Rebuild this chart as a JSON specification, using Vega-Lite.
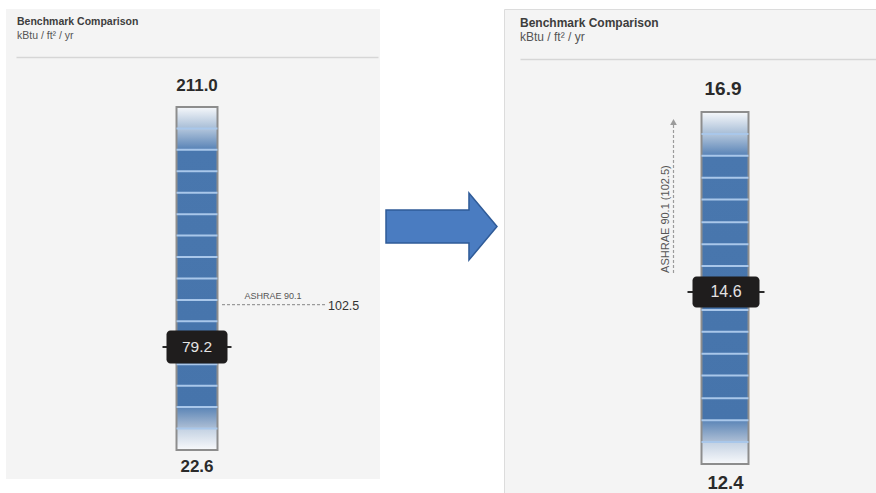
{
  "$schema": "https://vega.github.io/schema/vega-lite/v6.json",
  "background": "white",
  "padding": {"left": 6, "top": 8, "right": 0, "bottom": 0},
  "spacing": 0,
  "config": {
    "view": {"stroke": null},
    "font": "Liberation Sans, Arial, sans-serif",
    "text": {"font": "Liberation Sans, Arial, sans-serif"}
  },
  "datasets": {
    "bench": [
      {"panel": "Before", "min": 22.6, "max": 211.0, "current": 79.2, "benchmark": "ASHRAE 90.1", "ashrae": 102.5, "note": "ASHRAE 90.1 (102.5)"},
      {"panel": "After", "min": 12.4, "max": 16.9, "current": 14.6, "benchmark": "ASHRAE 90.1", "ashrae": 102.5, "note": "ASHRAE 90.1 (102.5)"}
    ],
    "dividers": [
      {"panel": "Before", "value": 34.4}, {"panel": "Before", "value": 46.2}, {"panel": "Before", "value": 57.9},
      {"panel": "Before", "value": 69.7}, {"panel": "Before", "value": 81.5}, {"panel": "Before", "value": 93.3},
      {"panel": "Before", "value": 105.0}, {"panel": "Before", "value": 116.8}, {"panel": "Before", "value": 128.6},
      {"panel": "Before", "value": 140.4}, {"panel": "Before", "value": 152.1}, {"panel": "Before", "value": 163.9},
      {"panel": "Before", "value": 175.7}, {"panel": "Before", "value": 187.5}, {"panel": "Before", "value": 199.2},
      {"panel": "After", "value": 12.68}, {"panel": "After", "value": 12.96}, {"panel": "After", "value": 13.24},
      {"panel": "After", "value": 13.53}, {"panel": "After", "value": 13.81}, {"panel": "After", "value": 14.09},
      {"panel": "After", "value": 14.37}, {"panel": "After", "value": 14.65}, {"panel": "After", "value": 14.93},
      {"panel": "After", "value": 15.21}, {"panel": "After", "value": 15.49}, {"panel": "After", "value": 15.78},
      {"panel": "After", "value": 16.06}, {"panel": "After", "value": 16.34}, {"panel": "After", "value": 16.62}
    ],
    "transition": [{"from": "Before", "to": "After"}]
  },
  "hconcat": [
    {
      "width": 374,
      "height": 470,
      "view": {"fill": "#f4f4f4", "stroke": null},
      "title": {
        "text": "Benchmark Comparison", "subtitle": "kBtu / ft² / yr",
        "anchor": "start", "frame": "group", "offset": -32, "dx": 11,
        "font": "Liberation Sans, Arial, sans-serif",
        "fontSize": 10.5, "fontWeight": "bold", "color": "#3d3d3d",
        "subtitleFont": "Liberation Sans, Arial, sans-serif",
        "subtitleFontSize": 10.5, "subtitleColor": "#555555", "subtitlePadding": 3
      },
      "data": {"name": "bench"},
      "transform": [{"filter": "datum.panel === 'Before'"}],
      "encoding": {
        "x": {
          "field": "panel", "type": "nominal",
          "scale": {"type": "point", "range": [10, 372]},
          "axis": {"orient": "top", "offset": -48, "domainColor": "#d6d6d6", "domainWidth": 1.5, "ticks": false, "labels": false, "title": null, "grid": false}
        }
      },
      "layer": [
        {
          "mark": {
            "type": "bar", "width": 41, "stroke": "#8d8d8d", "strokeWidth": 2,
            "fill": {"gradient": "linear", "x1": 0, "y1": 0, "x2": 0, "y2": 1, "stops": [
              {"offset": 0, "color": "#f6f8fb"}, {"offset": 0.0625, "color": "#a7bdd6"},
              {"offset": 0.0626, "color": "#b3c6dc"}, {"offset": 0.125, "color": "#5681b5"},
              {"offset": 0.126, "color": "#4977ae"}, {"offset": 0.874, "color": "#4674ab"},
              {"offset": 0.875, "color": "#5a84b6"}, {"offset": 0.9374, "color": "#aebfd5"},
              {"offset": 0.9375, "color": "#c3d1e2"}, {"offset": 1, "color": "#f8f9fb"}
            ]}
          },
          "encoding": {
            "y": {"field": "min", "type": "quantitative", "scale": {"zero": false, "nice": false, "range": [441, 98]}, "axis": null},
            "y2": {"field": "max"}
          }
        },
        {
          "data": {"name": "dividers"},
          "transform": [{"filter": "datum.panel === 'Before'"}],
          "mark": {"type": "tick", "orient": "horizontal", "size": 41, "thickness": 2, "color": "#a9c7ea", "opacity": 1},
          "encoding": {"y": {"field": "value", "type": "quantitative"}}
        },
        {
          "mark": {"type": "rule", "xOffset": 25, "x2Offset": 128, "strokeDash": [3, 2], "color": "#9b9b9b", "strokeWidth": 1.2},
          "encoding": {"x2": {"field": "panel"}, "y": {"field": "ashrae", "type": "quantitative"}}
        },
        {
          "mark": {"type": "text", "xOffset": 76, "dy": -9, "fontSize": 9, "color": "#555555"},
          "encoding": {"y": {"field": "ashrae", "type": "quantitative"}, "text": {"field": "benchmark"}}
        },
        {
          "mark": {"type": "text", "xOffset": 131, "dy": 1, "align": "left", "fontSize": 12.5, "color": "#333333"},
          "encoding": {"y": {"field": "ashrae", "type": "quantitative"}, "text": {"field": "ashrae", "format": ".1f"}}
        },
        {
          "mark": {"type": "tick", "orient": "horizontal", "size": 69, "thickness": 2, "color": "#2a2a2a", "opacity": 1},
          "encoding": {"y": {"field": "current", "type": "quantitative"}}
        },
        {
          "mark": {"type": "tick", "orient": "horizontal", "size": 61, "thickness": 33, "cornerRadius": 4, "color": "#1f1d1d", "opacity": 1},
          "encoding": {"y": {"field": "current", "type": "quantitative"}}
        },
        {
          "mark": {"type": "text", "fontSize": 15.5, "color": "#e4e4e4"},
          "encoding": {"y": {"field": "current", "type": "quantitative"}, "text": {"field": "current", "format": ".1f"}}
        },
        {
          "mark": {"type": "text", "dy": -21, "fontSize": 17, "fontWeight": "bold", "color": "#2a2a2a"},
          "encoding": {"y": {"field": "max", "type": "quantitative"}, "text": {"field": "max", "format": ".1f"}}
        },
        {
          "mark": {"type": "text", "dy": 17, "fontSize": 17, "fontWeight": "bold", "color": "#2a2a2a"},
          "encoding": {"y": {"field": "min", "type": "quantitative"}, "text": {"field": "min", "format": ".1f"}}
        }
      ]
    },
    {
      "width": 123,
      "height": 435,
      "view": {"stroke": null},
      "data": {"name": "transition"},
      "mark": {
        "type": "point",
        "shape": "M-1,-0.297L0.495,-0.297L0.495,-0.604L1,0L0.495,0.604L0.495,0.297L-1,0.297Z",
        "size": 12321, "filled": true, "fill": "#4a7cc1", "stroke": "#2f5b98", "strokeWidth": 1.5, "opacity": 1
      },
      "encoding": {}
    },
    {
      "width": 373,
      "height": 485,
      "view": {"fill": "#f4f4f4", "stroke": "#dcdcdc"},
      "title": {
        "text": "Benchmark Comparison", "subtitle": "kBtu / ft² / yr",
        "anchor": "start", "frame": "group", "offset": -35, "dx": 16,
        "font": "Liberation Sans, Arial, sans-serif",
        "fontSize": 12, "fontWeight": "bold", "color": "#3d3d3d",
        "subtitleFont": "Liberation Sans, Arial, sans-serif",
        "subtitleFontSize": 12, "subtitleColor": "#555555", "subtitlePadding": 2
      },
      "data": {"name": "bench"},
      "transform": [{"filter": "datum.panel === 'After'"}],
      "encoding": {
        "x": {
          "field": "panel", "type": "nominal",
          "scale": {"type": "point", "range": [16, 373]},
          "axis": {"orient": "top", "offset": -50, "domainColor": "#d6d6d6", "domainWidth": 1.5, "ticks": false, "labels": false, "title": null, "grid": false}
        }
      },
      "layer": [
        {
          "mark": {
            "type": "bar", "width": 47, "xOffset": 26.5, "stroke": "#8d8d8d", "strokeWidth": 2,
            "fill": {"gradient": "linear", "x1": 0, "y1": 0, "x2": 0, "y2": 1, "stops": [
              {"offset": 0, "color": "#f6f8fb"}, {"offset": 0.0625, "color": "#a7bdd6"},
              {"offset": 0.0626, "color": "#b3c6dc"}, {"offset": 0.125, "color": "#5681b5"},
              {"offset": 0.126, "color": "#4977ae"}, {"offset": 0.874, "color": "#4674ab"},
              {"offset": 0.875, "color": "#5a84b6"}, {"offset": 0.9374, "color": "#aebfd5"},
              {"offset": 0.9375, "color": "#c3d1e2"}, {"offset": 1, "color": "#f8f9fb"}
            ]}
          },
          "encoding": {
            "y": {"field": "min", "type": "quantitative", "scale": {"zero": false, "nice": false, "range": [455, 103]}, "axis": null},
            "y2": {"field": "max"}
          }
        },
        {
          "data": {"name": "dividers"},
          "transform": [{"filter": "datum.panel === 'After'"}],
          "mark": {"type": "tick", "orient": "horizontal", "size": 47, "xOffset": 26.5, "thickness": 2, "color": "#a9c7ea", "opacity": 1},
          "encoding": {"y": {"field": "value", "type": "quantitative"}}
        },
        {
          "mark": {"type": "rule", "xOffset": -25, "yOffset": -19, "y2Offset": 10, "strokeDash": [3, 2], "color": "#9b9b9b", "strokeWidth": 1.2},
          "encoding": {"y": {"field": "current", "type": "quantitative"}, "y2": {"field": "max"}}
        },
        {
          "mark": {"type": "point", "shape": "triangle-up", "xOffset": -25, "yOffset": 10, "size": 45, "filled": true, "color": "#9b9b9b", "opacity": 1},
          "encoding": {"y": {"field": "max", "type": "quantitative"}}
        },
        {
          "mark": {"type": "text", "angle": 270, "align": "left", "baseline": "middle", "xOffset": -33, "yOffset": -19, "fontSize": 11, "color": "#555555"},
          "encoding": {"y": {"field": "current", "type": "quantitative"}, "text": {"field": "note"}}
        },
        {
          "mark": {"type": "tick", "orient": "horizontal", "size": 77, "xOffset": 27.5, "thickness": 2, "color": "#2a2a2a", "opacity": 1},
          "encoding": {"y": {"field": "current", "type": "quantitative"}}
        },
        {
          "mark": {"type": "tick", "orient": "horizontal", "size": 67, "xOffset": 27.5, "thickness": 31, "cornerRadius": 4, "color": "#1f1d1d", "opacity": 1},
          "encoding": {"y": {"field": "current", "type": "quantitative"}}
        },
        {
          "mark": {"type": "text", "xOffset": 27.5, "fontSize": 16, "color": "#e4e4e4"},
          "encoding": {"y": {"field": "current", "type": "quantitative"}, "text": {"field": "current", "format": ".1f"}}
        },
        {
          "mark": {"type": "text", "xOffset": 24.5, "dy": -23, "fontSize": 19, "fontWeight": "bold", "color": "#2a2a2a"},
          "encoding": {"y": {"field": "max", "type": "quantitative"}, "text": {"field": "max", "format": ".1f"}}
        },
        {
          "mark": {"type": "text", "xOffset": 27, "dy": 19, "fontSize": 18.5, "fontWeight": "bold", "color": "#2a2a2a"},
          "encoding": {"y": {"field": "min", "type": "quantitative"}, "text": {"field": "min", "format": ".1f"}}
        }
      ]
    }
  ]
}
